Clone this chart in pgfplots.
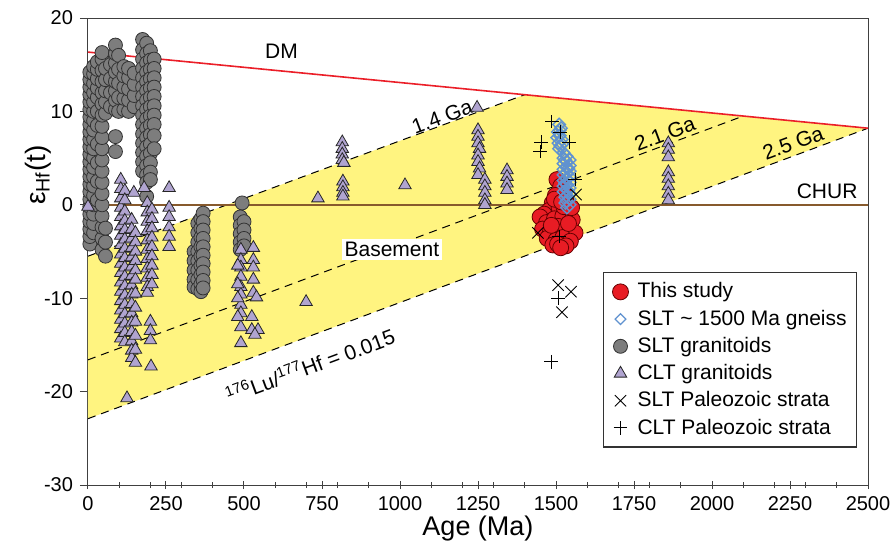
\documentclass[border=0pt]{standalone}
\usepackage{fontspec}
\setmainfont{Liberation Sans}
\usepackage{pgfplots}
\pgfplotsset{compat=1.18}
\definecolor{yel}{RGB}{255,244,128}
\definecolor{dmred}{RGB}{235,30,40}
\definecolor{chur}{RGB}{135,90,45}
\definecolor{grayc}{RGB}{125,125,125}
\definecolor{lav}{RGB}{176,164,208}
\definecolor{redc}{RGB}{232,28,36}
\definecolor{bluec}{RGB}{96,146,208}
\begin{document}
\begin{tikzpicture}
\path[use as bounding box] (-44pt,-36.5pt) rectangle (403.5pt,242.5pt);
\begin{axis}[
  at={(0pt,0pt)}, anchor=south west,
  scale only axis, width=390pt, height=233.5pt,
  xmin=0, xmax=2500, ymin=-30, ymax=20,
  clip=false,
  axis line style={black!75, line width=0.5pt},
  xtick={0,250,...,2500},
  minor xtick={100,200,...,2400},
  ytick={-30,-20,...,20},
  tick pos=left,
  xtick align=center, ytick align=outside,
  major tick length=4pt, minor tick length=3pt,
  tick style={black!75, line width=0.5pt},
  scaled ticks=false,
  /pgf/number format/assume math mode=true,
  /pgf/number format/1000 sep={},
  tick label style={font=\fontsize{10}{12}\selectfont},
  xlabel={Age (Ma)},
  ylabel={ε\textsubscript{Hf}(t)},
  xlabel style={font=\fontsize{13.5}{16}\selectfont, at={(axis description cs:0.5,-0.093)}, anchor=center},
  ylabel style={font=\fontsize{14}{16}\selectfont, at={(axis description cs:-0.064,0.664)}, anchor=center},
  legend style={at={(0.660,0.456)}, anchor=north west, draw=black!80, line width=0.7pt,
    font=\fontsize{10.5}{12}\selectfont, row sep=0.5pt, inner xsep=3pt, inner ysep=3pt},
  legend cell align=left,
  legend image code/.code={\path[draw=none,fill=none] (0pt,-3pt) rectangle (12pt,3pt); \draw[#1] plot coordinates {(5.5pt,0pt)};},
]
% legend entries
\addlegendimage{only marks, mark=*, mark size=4pt, mark options={fill=redc, draw=black!60!red, line width=0.4pt}}
\addlegendentry{This study}
\addlegendimage{only marks, mark=square, mark size=1.9pt, mark options={rotate=45, draw=bluec, line width=0.6pt}}
\addlegendentry{SLT \textasciitilde\ 1500 Ma gneiss}
\addlegendimage{only marks, mark=*, mark size=3.5pt, mark options={fill=grayc, draw=black!80, line width=0.4pt}}
\addlegendentry{SLT granitoids}
\addlegendimage{only marks, mark=triangle*, mark size=3.6pt, mark options={fill=lav, draw=black!85, line width=0.4pt}}
\addlegendentry{CLT granitoids}
\addlegendimage{only marks, mark=x, mark size=4pt, mark options={draw=black, line width=0.45pt}}
\addlegendentry{SLT Paleozoic strata}
\addlegendimage{only marks, mark=+, mark size=3.4pt, mark options={draw=black, line width=0.45pt}}
\addlegendentry{CLT Paleozoic strata}

% basement field
\addplot[fill=yel, draw=none, forget plot] coordinates {(0,-5.5) (1400,11.79) (2500,8.2) (0,-22.9)} -- cycle;
% model age lines
\addplot[black, line width=0.5pt, dash pattern=on 4pt off 3pt, forget plot] coordinates {(0,-5.5) (1400,11.79)};
\addplot[black, line width=0.5pt, dash pattern=on 4pt off 3pt, forget plot] coordinates {(0,-16.6) (2100,9.5)};
\addplot[black, line width=0.5pt, dash pattern=on 4pt off 3pt, forget plot] coordinates {(0,-22.9) (2500,8.2)};
% DM and CHUR
\addplot[dmred, line width=0.8pt, forget plot] coordinates {(0,16.35) (2500,8.2)};
\addplot[chur, line width=0.9pt, forget plot] coordinates {(0,0) (2500,0)};

% SLT granitoids
\addplot[only marks, mark=*, mark size=3.5pt, mark options={fill=grayc, draw=black!80, line width=0.4pt}, forget plot] coordinates {
(6,-4.2)(6,-3.4)(6,-2.6)(6,-1.8)(6,-1.0)(6,-0.2)(6,0.6)(6,1.4)(6,2.2)(6,3.0)(6,3.8)(6,4.6)(6,5.4)(6,6.2)(6,7.0)(6,7.8)(6,8.6)(6,9.4)(6,10.2)(6,11.0)(6,11.8)(6,12.6)(6,13.4)(6,14.2)
(18,-3.0)(18,-2.0)(18,-1.0)(18,0.0)(18,1.0)(18,2.0)(18,3.0)(18,4.0)(18,5.0)(18,6.0)(18,7.0)(18,8.0)(18,9.0)(18,10.0)(18,11.0)(18,12.0)(18,13.0)(18,14.0)(18,14.8)
(30,0.5)(30,2.5)(30,4.5)(30,6.5)(30,8.5)(30,10.0)(30,11.5)(30,12.5)(30,13.5)(30,14.5)(30,15.3)
(45,-4.8)(45,-3.6)(45,-2.4)(45,-1.2)(45,0.0)(45,1.2)(45,2.4)(45,3.6)(45,4.8)(45,6.0)(45,7.2)(45,8.4)(45,9.6)(45,10.8)(45,12.0)(45,13.2)(45,14.4)(45,15.6)(45,16.3)
(56,-5.5)(56,-4.0)(56,-2.5)(56,9.8)(56,11.0)(56,12.2)(56,13.4)(56,14.6)
(72,10.5)(72,12.0)(72,13.5)(72,15.0)
(88,5.7)(88,7.3)(88,10.2)(88,11.2)(88,12.2)(88,13.2)(88,14.2)(88,15.2)(88,16.2)(88,17.1)
(98,10.0)(98,11.5)(98,13.0)(98,14.5)(98,16.0)
(115,10.2)(115,11.4)(115,12.6)(115,13.8)(115,14.8)
(130,10.0)(130,11.2)(130,12.4)(130,13.6)(130,14.6)
(148,10.5)(148,11.7)(148,12.9)(148,14.1)
(175,17.7)(175,16.6)(175,15.6)(175,14.6)(175,13.6)(175,12.6)(175,11.6)(175,10.6)(175,9.6)(175,8.6)(175,7.6)(175,6.6)(175,5.6)(175,4.6)(175,3.6)
(188,17.3)(188,16.2)(188,15.2)(188,14.2)(188,13.2)(188,12.2)(188,11.2)(188,10.2)(188,9.2)(188,8.2)(188,7.2)(188,6.2)(188,5.2)(188,4.2)(188,3.2)(188,2.4)(188,0.9)
(200,16.5)(200,15.5)(200,14.5)(200,13.5)(200,12.5)(200,11.5)(200,10.5)(200,9.5)(200,8.5)(200,7.5)(200,6.5)(200,5.5)(200,4.5)(200,3.5)(200,2.7)
(212,15.6)(212,14.6)(212,13.6)(212,12.6)(212,11.6)(212,10.6)(212,9.6)(212,8.6)(212,7.4)(212,6.0)
(340,-5.0)(340,-6.0)(340,-7.0)(340,-8.0)(340,-8.8)
(352,-2.0)(352,-3.0)(352,-4.0)(352,-5.0)(352,-6.0)(352,-7.0)(352,-8.0)(352,-9.0)
(362,-1.5)(362,-2.5)(362,-3.5)(362,-4.5)(362,-5.5)(362,-6.5)(362,-7.5)(362,-8.5)(362,-9.3)
(369,-0.9)(369,-1.8)(369,-2.7)(369,-3.6)(369,-4.5)(369,-5.4)(369,-6.3)(369,-7.2)(369,-8.1)(369,-8.9)
(494,0.2)(488,-1.3)(488,-2.2)(488,-3.1)(488,-4.0)(488,-4.8)(500,-1.8)(500,-2.7)(500,-3.6)(500,-4.4)
};

% CLT granitoids
\addplot[only marks, mark=triangle*, mark size=3.6pt, mark options={fill=lav, draw=black!85, line width=0.4pt}, forget plot] coordinates {
(0,-0.2)
(105,2.7)(105,1.7)(105,0.7)(105,-0.3)(105,-1.3)(105,-2.3)(105,-3.3)(105,-4.3)(105,-5.3)(105,-6.3)(105,-7.3)(105,-8.3)(105,-9.3)(105,-10.3)(105,-11.3)(105,-12.3)(105,-13.3)(105,-14.3)
(118,1.5)(118,0.5)(118,-0.7)(118,-1.7)(118,-2.7)(118,-3.7)(118,-4.7)(118,-5.7)(118,-6.7)(118,-7.7)(118,-8.7)(118,-9.7)(118,-10.7)(118,-11.7)(118,-12.7)(118,-13.7)(118,-14.7)
(140,-1.6)(140,-2.6)(140,-3.6)(140,-4.6)(140,-5.6)(140,-6.6)(140,-7.6)(140,-8.6)(140,-9.6)(140,-10.6)(140,-11.6)(140,-12.6)(140,-13.6)(140,-14.6)(140,-15.6)(140,-16.4)
(152,-3.0)(152,-4.0)(152,-5.0)(152,-6.0)(152,-7.0)(152,-8.0)(152,-9.5)(152,-11.0)(152,-12.5)(152,-14.0)(152,-15.5)(152,-16.9)
(147,1.3)(180,1.8)
(190,0.2)(190,-0.8)(190,-1.8)(190,-2.8)(190,-3.8)(190,-4.8)(190,-5.8)(190,-6.8)(190,-7.8)(190,-8.8)(190,-9.4)
(205,-0.5)(205,-1.5)(205,-2.5)(205,-3.5)(205,-4.5)(205,-5.5)(205,-6.5)(205,-7.5)(205,-8.5)
(200,-12.5)(200,-13.5)(200,-14.5)(202,-17.3)
(125,-20.7)
(260,1.8)(260,-0.3)(260,-1.3)(260,-2.4)(260,-3.4)(260,-4.5)
(490,-4.8)(490,-5.9)(490,-6.7)(490,-7.7)(490,-8.8)(490,-9.6)(490,-10.7)(490,-11.6)(490,-13.1)(490,-14.8)
(480,-6.5)(480,-8.5)(480,-10)(480,-12)
(530,-4.6)(530,-5.9)(530,-6.7)(530,-8.0)(530,-9.4)(540,-9.9)(525,-12.0)(525,-13.4)(545,-13.4)(535,-13.9)
(699,-10.4)(737,0.7)
(815,6.7)(815,6.0)(815,5.4)(815,4.8)(820,4.5)(817,2.5)(817,1.9)(817,1.3)(817,0.9)
(1016,2.1)
(1247,10.4)(1250,8.0)(1250,7.3)(1250,6.6)(1255,6.0)(1250,5.3)(1250,4.6)(1255,3.9)(1250,3.2)
(1272,2.7)(1272,2.0)(1272,1.3)(1272,0.5)(1272,0.0)
(1343,3.7)(1343,3.0)(1343,2.3)(1343,1.6)
(1860,6.6)(1860,5.9)(1860,5.1)(1860,3.5)(1860,2.8)(1860,2.0)(1860,1.2)(1860,0.5)
};

% This study
\addplot[only marks, mark=*, mark size=4pt, mark options={fill=redc, draw=black!60!red, line width=0.4pt}, forget plot] coordinates {
(1503,2.7)(1515,2.0)(1525,1.3)(1498,1.0)(1488,0.2)(1532,0.4)(1478,-0.6)(1510,-0.3)(1542,-0.8)(1462,-1.0)(1449,-1.3)(1470,-1.9)(1495,-1.5)(1522,-1.2)(1552,-1.6)(1457,-2.6)(1482,-2.9)(1506,-2.3)(1532,-2.6)(1561,-3.0)(1472,-3.6)(1500,-3.8)(1522,-3.5)(1546,-3.9)(1490,-4.3)(1505,-4.2)(1532,-4.4)(1515,-4.6)(1540,-2.0)(1525,-0.2)(1495,0.6)(1485,-2.2)(1518,0.3)(1550,-0.3)
};

% SLT ~1500 Ma gneiss
\addplot[only marks, mark=square, mark size=2.2pt, mark options={rotate=45, draw=bluec, line width=0.7pt}, forget plot] coordinates {
(1510,8.6)(1516,8.2)(1506,7.8)(1512,7.4)(1518,7.0)(1508,6.6)(1514,6.3)(1510,6.0)(1520,6.5)(1504,7.2)(1512,8.0)
(1524,5.6)(1524,5.0)(1524,4.4)(1524,3.8)(1524,3.2)(1524,2.6)(1524,2.0)(1524,1.4)
(1534,5.2)(1534,4.6)(1534,4.0)(1534,3.4)(1534,2.8)(1534,2.2)(1534,1.6)(1534,1.0)(1534,0.4)
(1544,4.8)(1544,4.2)(1544,3.6)(1544,3.0)(1544,2.4)(1544,1.8)(1544,1.2)(1544,0.6)(1544,0.0)(1535,-0.3)
(1530,0.8)(1530,0.2)(1529,4.8)(1539,3.9)(1529,2.3)(1539,1.5)
};

% SLT Paleozoic strata
\addplot[only marks, mark=x, mark size=4pt, mark options={draw=black, line width=0.45pt}, forget plot] coordinates {
(1507,-8.6)(1548,-9.3)(1519,-11.5)(1564,1.1)(1442,-3.0)
};
% CLT Paleozoic strata
\addplot[only marks, mark=+, mark size=3.4pt, mark options={draw=black, line width=0.45pt}, forget plot] coordinates {
(1484,-16.8)(1507,-10.0)(1487,8.9)(1452,6.7)(1449,5.7)(1513,7.8)(1542,6.7)(1561,2.7)(1510,-3.4)
};

% labels
\node[font=\fontsize{10.5}{12}\selectfont] at (axis cs:620,16.4) {DM};
\node[font=\fontsize{10.5}{12}\selectfont, rotate=20.4] at (axis cs:1135,9.4) {1.4 Ga};
\node[font=\fontsize{10.5}{12}\selectfont, rotate=20.4] at (axis cs:1849,7.6) {2.1 Ga};
\node[font=\fontsize{10.5}{12}\selectfont, rotate=20.4] at (axis cs:2260,6.6) {2.5 Ga};
\node[font=\fontsize{10.5}{12}\selectfont] at (axis cs:2369,1.4) {CHUR};
\node[font=\fontsize{10.5}{12}\selectfont, fill=white, inner sep=1.5pt] at (axis cs:974,-4.8) {Basement};
\node[font=\fontsize{10.5}{12}\selectfont, rotate=20.4] at (axis cs:712,-17.2) {\textsuperscript{176}Lu/\textsuperscript{177}Hf = 0.015};
\end{axis}
\end{tikzpicture}
\end{document}
